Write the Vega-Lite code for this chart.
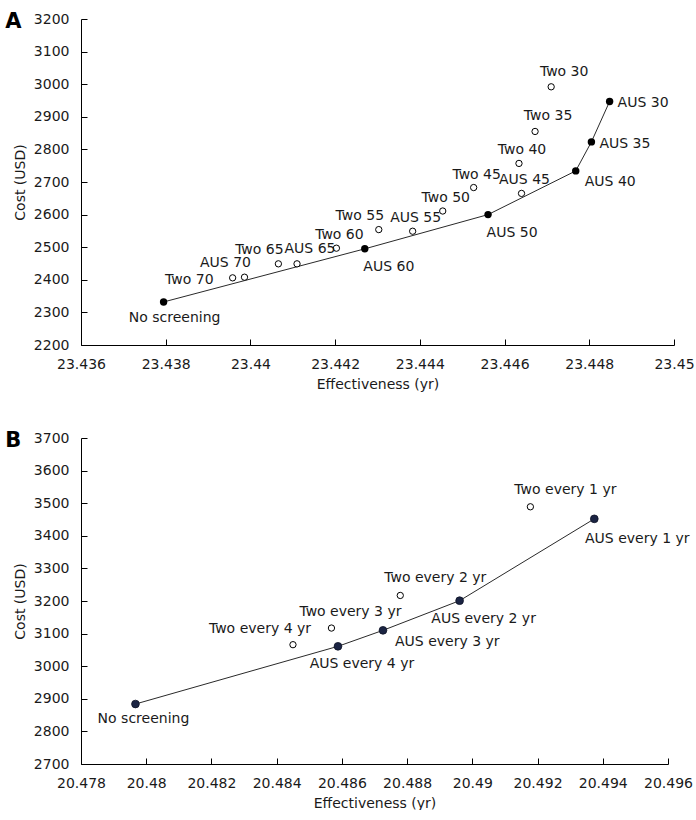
{
  "$schema": "https://vega.github.io/schema/vega-lite/v6.json",
  "background": "white",
  "padding": {"left": 5, "top": 11, "right": 0, "bottom": 0},
  "config": {
    "view": {"stroke": null},
    "font": "DejaVu Sans",
    "concat": {"spacing": 39},
    "axis": {
      "grid": false,
      "labelFont": "DejaVu Sans",
      "labelFontSize": 14,
      "labelColor": "#1a1a1a",
      "titleFont": "DejaVu Sans",
      "titleFontSize": 14,
      "titleFontWeight": "normal",
      "titleColor": "#1a1a1a",
      "domainColor": "#000000",
      "tickColor": "#000000",
      "tickSize": -6,
      "labelPadding": 18,
      "labelFlush": false,
      "labelOverlap": false
    },
    "axisY": {"titlePadding": 6},
    "axisX": {"titlePadding": 6},
    "title": {"font": "DejaVu Sans", "fontSize": 21, "fontWeight": "bold", "color": "#000000"},
    "text": {"font": "DejaVu Sans", "fontSize": 14, "color": "#1a1a1a", "baseline": "middle"}
  },
  "vconcat": [
    {
      "width": 593,
      "height": 326,
      "title": {"text": "A", "anchor": "start", "frame": "bounds", "offset": 0, "dy": 20, "dx": -8},
      "data": {"values": [
        {"label": "No screening", "effectiveness": 23.43795, "cost": 2332, "strategy": "frontier", "pos": "below"},
        {"label": "Two 70", "effectiveness": 23.43958, "cost": 2406, "strategy": "dominated", "pos": "left"},
        {"label": "AUS 70", "effectiveness": 23.43986, "cost": 2408, "strategy": "dominated", "pos": "above-left"},
        {"label": "Two 65", "effectiveness": 23.44066, "cost": 2449, "strategy": "dominated", "pos": "above-left"},
        {"label": "AUS 65", "effectiveness": 23.4411, "cost": 2449, "strategy": "dominated", "pos": "above-right"},
        {"label": "Two 60", "effectiveness": 23.44203, "cost": 2497, "strategy": "dominated", "pos": "above"},
        {"label": "AUS 60", "effectiveness": 23.4427, "cost": 2495, "strategy": "frontier", "pos": "below-right"},
        {"label": "Two 55", "effectiveness": 23.44303, "cost": 2554, "strategy": "dominated", "pos": "above-left"},
        {"label": "AUS 55", "effectiveness": 23.44383, "cost": 2549, "strategy": "dominated", "pos": "above"},
        {"label": "Two 50", "effectiveness": 23.44454, "cost": 2611, "strategy": "dominated", "pos": "above"},
        {"label": "AUS 50", "effectiveness": 23.44561, "cost": 2600, "strategy": "frontier", "pos": "below-right"},
        {"label": "Two 45", "effectiveness": 23.44527, "cost": 2683, "strategy": "dominated", "pos": "above"},
        {"label": "AUS 45", "effectiveness": 23.4464, "cost": 2665, "strategy": "dominated", "pos": "above"},
        {"label": "Two 40", "effectiveness": 23.44634, "cost": 2757, "strategy": "dominated", "pos": "above"},
        {"label": "AUS 40", "effectiveness": 23.44768, "cost": 2734, "strategy": "frontier", "pos": "right-below"},
        {"label": "Two 35", "effectiveness": 23.44672, "cost": 2855, "strategy": "dominated", "pos": "above-right"},
        {"label": "AUS 35", "effectiveness": 23.44805, "cost": 2823, "strategy": "frontier", "pos": "right"},
        {"label": "Two 30", "effectiveness": 23.4471, "cost": 2992, "strategy": "dominated", "pos": "above-right"},
        {"label": "AUS 30", "effectiveness": 23.44848, "cost": 2947, "strategy": "frontier", "pos": "right"}
      ]},
      "encoding": {
        "x": {"field": "effectiveness", "type": "quantitative",
              "scale": {"domain": [23.436, 23.45], "nice": false, "zero": false},
              "axis": {"title": "Effectiveness (yr)", "format": ".3~f",
                       "values": [23.436, 23.438, 23.44, 23.442, 23.444, 23.446, 23.448, 23.45]}},
        "y": {"field": "cost", "type": "quantitative",
              "scale": {"domain": [2200, 3200], "nice": false, "zero": false},
              "axis": {"title": "Cost (USD)", "format": "d",
                       "values": [2200, 2300, 2400, 2500, 2600, 2700, 2800, 2900, 3000, 3100, 3200]}}
      },
      "layer": [
        {"transform": [{"filter": "datum.strategy === 'frontier'"}],
         "mark": {"type": "line", "color": "#2a2a2a", "strokeWidth": 1}},
        {"transform": [{"filter": "datum.strategy === 'dominated'"}],
         "mark": {"type": "point", "shape": "circle", "filled": false, "fill": "white", "stroke": "#000000", "strokeWidth": 1, "size": 40, "opacity": 1}},
        {"transform": [{"filter": "datum.strategy === 'frontier'"}],
         "mark": {"type": "circle", "color": "#000000", "size": 55, "opacity": 1}},
        {"transform": [{"filter": "datum.pos === 'above'"}],
         "mark": {"type": "text", "align": "center", "dx": 3, "dy": -13},
         "encoding": {"text": {"field": "label"}}},
        {"transform": [{"filter": "datum.pos === 'above-right'"}],
         "mark": {"type": "text", "align": "center", "dx": 13, "dy": -15},
         "encoding": {"text": {"field": "label"}}},
        {"transform": [{"filter": "datum.pos === 'above-left'"}],
         "mark": {"type": "text", "align": "center", "dx": -19, "dy": -14},
         "encoding": {"text": {"field": "label"}}},
        {"transform": [{"filter": "datum.pos === 'left'"}],
         "mark": {"type": "text", "align": "right", "dx": -19, "dy": 2},
         "encoding": {"text": {"field": "label"}}},
        {"transform": [{"filter": "datum.pos === 'below'"}],
         "mark": {"type": "text", "align": "center", "dx": 11, "dy": 16},
         "encoding": {"text": {"field": "label"}}},
        {"transform": [{"filter": "datum.pos === 'below-right'"}],
         "mark": {"type": "text", "align": "center", "dx": 24, "dy": 18},
         "encoding": {"text": {"field": "label"}}},
        {"transform": [{"filter": "datum.pos === 'right-below'"}],
         "mark": {"type": "text", "align": "left", "dx": 9, "dy": 11},
         "encoding": {"text": {"field": "label"}}},
        {"transform": [{"filter": "datum.pos === 'right'"}],
         "mark": {"type": "text", "align": "left", "dx": 8, "dy": 2},
         "encoding": {"text": {"field": "label"}}}
      ]
    },
    {
      "width": 587,
      "height": 326,
      "title": {"text": "B", "anchor": "start", "frame": "bounds", "offset": 0, "dy": 20, "dx": -8},
      "data": {"values": [
        {"label": "No screening", "effectiveness": 20.47967, "cost": 2884, "strategy": "frontier", "pos": "below"},
        {"label": "Two every 4 yr", "effectiveness": 20.4845, "cost": 3066, "strategy": "dominated", "pos": "above-left"},
        {"label": "AUS every 4 yr", "effectiveness": 20.48588, "cost": 3061, "strategy": "frontier", "pos": "below-right"},
        {"label": "Two every 3 yr", "effectiveness": 20.48568, "cost": 3117, "strategy": "dominated", "pos": "above"},
        {"label": "AUS every 3 yr", "effectiveness": 20.48726, "cost": 3110, "strategy": "frontier", "pos": "right-below"},
        {"label": "Two every 2 yr", "effectiveness": 20.48779, "cost": 3217, "strategy": "dominated", "pos": "above-right"},
        {"label": "AUS every 2 yr", "effectiveness": 20.48961, "cost": 3201, "strategy": "frontier", "pos": "below-right"},
        {"label": "Two every 1 yr", "effectiveness": 20.49178, "cost": 3489, "strategy": "dominated", "pos": "above-right"},
        {"label": "AUS every 1 yr", "effectiveness": 20.49374, "cost": 3452, "strategy": "frontier", "pos": "below-far-right"}
      ]},
      "encoding": {
        "x": {"field": "effectiveness", "type": "quantitative",
              "scale": {"domain": [20.478, 20.496], "nice": false, "zero": false},
              "axis": {"title": "Effectiveness (yr)", "format": ".3~f",
                       "values": [20.478, 20.48, 20.482, 20.484, 20.486, 20.488, 20.49, 20.492, 20.494, 20.496]}},
        "y": {"field": "cost", "type": "quantitative",
              "scale": {"domain": [2700, 3700], "nice": false, "zero": false},
              "axis": {"title": "Cost (USD)", "format": "d",
                       "values": [2700, 2800, 2900, 3000, 3100, 3200, 3300, 3400, 3500, 3600, 3700]}}
      },
      "layer": [
        {"transform": [{"filter": "datum.strategy === 'frontier'"}],
         "mark": {"type": "line", "color": "#2a2a2a", "strokeWidth": 1}},
        {"transform": [{"filter": "datum.strategy === 'dominated'"}],
         "mark": {"type": "point", "shape": "circle", "filled": false, "fill": "white", "stroke": "#000000", "strokeWidth": 1, "size": 40, "opacity": 1}},
        {"transform": [{"filter": "datum.strategy === 'frontier'"}],
         "mark": {"type": "circle", "color": "#1b2443", "stroke": "#0d1224", "strokeWidth": 0.8, "size": 60, "opacity": 1}},
        {"transform": [{"filter": "datum.pos === 'above'"}],
         "mark": {"type": "text", "align": "center", "dx": 19, "dy": -16},
         "encoding": {"text": {"field": "label"}}},
        {"transform": [{"filter": "datum.pos === 'above-right'"}],
         "mark": {"type": "text", "align": "center", "dx": 35, "dy": -17},
         "encoding": {"text": {"field": "label"}}},
        {"transform": [{"filter": "datum.pos === 'above-left'"}],
         "mark": {"type": "text", "align": "center", "dx": -33, "dy": -16},
         "encoding": {"text": {"field": "label"}}},
        {"transform": [{"filter": "datum.pos === 'below'"}],
         "mark": {"type": "text", "align": "center", "dx": 8, "dy": 15},
         "encoding": {"text": {"field": "label"}}},
        {"transform": [{"filter": "datum.pos === 'below-right'"}],
         "mark": {"type": "text", "align": "center", "dx": 24, "dy": 18},
         "encoding": {"text": {"field": "label"}}},
        {"transform": [{"filter": "datum.pos === 'below-far-right'"}],
         "mark": {"type": "text", "align": "center", "dx": 43, "dy": 20},
         "encoding": {"text": {"field": "label"}}},
        {"transform": [{"filter": "datum.pos === 'right-below'"}],
         "mark": {"type": "text", "align": "left", "dx": 12, "dy": 12},
         "encoding": {"text": {"field": "label"}}}
      ]
    }
  ]
}
